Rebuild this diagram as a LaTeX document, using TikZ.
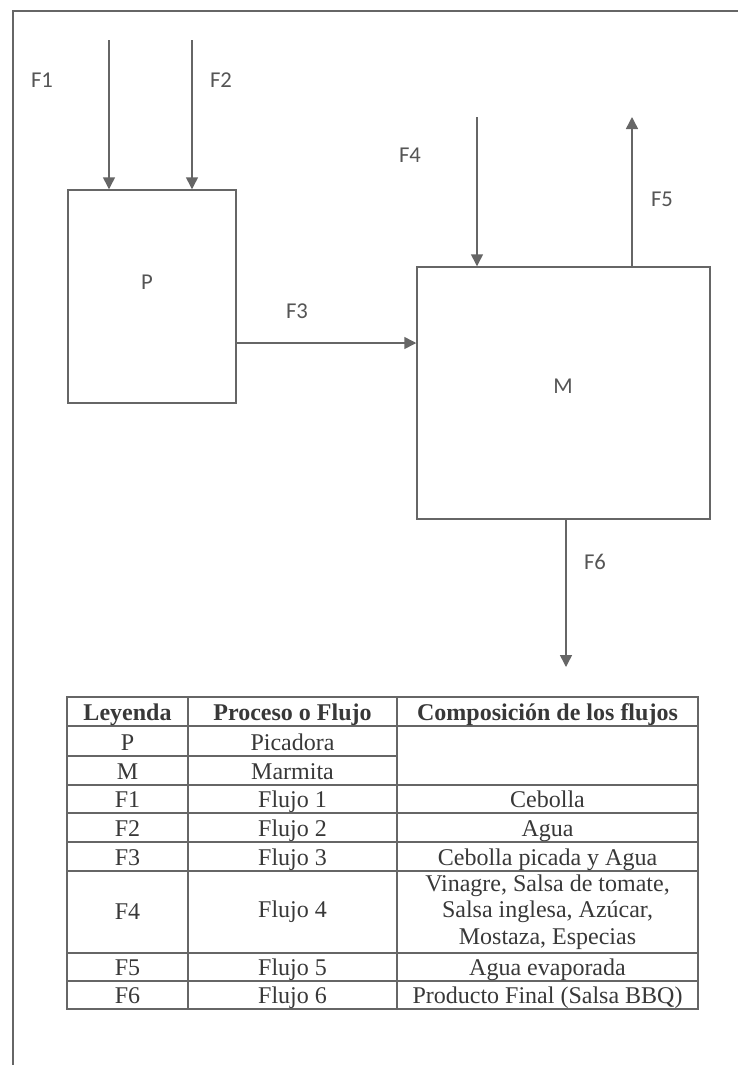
\documentclass[tikz,border=0pt]{standalone}
\usepackage{fontspec}
\setmainfont{Liberation Serif}
\newfontfamily\lblfont{Carlito}
\usetikzlibrary{arrows.meta}
\definecolor{linegray}{HTML}{666666}
\definecolor{lblgray}{HTML}{555555}
\definecolor{txtgray}{HTML}{383838}
\tikzset{
  unitbox/.style={draw=linegray, line width=1.1pt, inner sep=0pt},
  flow/.style={draw=linegray, line width=1.1pt, -{Triangle[width=9pt,length=9pt]}},
  flowlbl/.style={font=\lblfont\fontsize{17}{20}\selectfont, text=lblgray},
  tblline/.style={draw=linegray, line width=1.1pt},
  cell/.style={font=\fontsize{18}{20}\selectfont, text=txtgray, inner sep=0pt, align=center, anchor=base},
}
\begin{document}
\begin{tikzpicture}[x=0.75pt, y=-0.75pt]
\useasboundingbox (0,0) rectangle (738,1065);
% page frame
\draw[linegray, line width=1pt] (13,1065) -- (13,11) -- (738,11);

% process units
\node[unitbox, minimum width=126pt, minimum height=159.75pt] (P) at (152,296.5) {};
\node[unitbox, minimum width=219.75pt, minimum height=189pt] (M) at (563.5,393) {};
\node[flowlbl] (Plbl) at (147,282) {P};
\node[flowlbl] (Mlbl) at (563,386) {M};

% streams
\coordinate (f1in) at (109,40);
\coordinate (f2in) at (192,40);
\coordinate (f3out) at (P.east |- 0,343);
\coordinate (f4in) at (477,117);
\coordinate (f5out) at (632,117);
\coordinate (f6out) at (566,667);
\draw[flow] (f1in) -- (f1in |- P.north);
\draw[flow] (f2in) -- (f2in |- P.north);
\draw[flow] (f3out) -- (f3out -| M.west);
\draw[flow] (f4in) -- (f4in |- M.north);
\draw[flow] (f5out |- M.north) -- (f5out);
\draw[flow] (f6out |- M.south) -- (f6out);

\node[flowlbl] (F1lbl) at (42,80) {F1};
\node[flowlbl] (F2lbl) at (221,80) {F2};
\node[flowlbl] (F3lbl) at (297,311) {F3};
\node[flowlbl] (F4lbl) at (410,155) {F4};
\node[flowlbl] (F5lbl) at (662,199) {F5};
\node[flowlbl] (F6lbl) at (595,562) {F6};

% legend table
\draw[tblline] (67,697) rectangle (698,1009);
\draw[tblline] (188,697) -- (188,1009);
\draw[tblline] (397,697) -- (397,1009);
\foreach \y in {726,785,813,842,871,953,981}
  \draw[tblline] (67,\y) -- (698,\y);
\draw[tblline] (67,756) -- (397,756);

\node[cell, font=\fontsize{18}{20}\selectfont\bfseries] (hdA) at (127.5,720) {Leyenda};
\node[cell, font=\fontsize{18}{20}\selectfont\bfseries] (hdB) at (292.5,720) {Proceso o Flujo};
\node[cell, font=\fontsize{18}{20}\selectfont\bfseries] (hdC) at (547.5,720) {Composición de los flujos};

\foreach \key/\proc/\yb [count=\i] in {P/Picadora/756, M/Marmita/785, F1/Flujo 1/813,
    F2/Flujo 2/842, F3/Flujo 3/871, F5/Flujo 5/981, F6/Flujo 6/1009}{
  \node[cell] (key\i) at (127.5,\yb-6) {\key};
  \node[cell] (proc\i) at (292.5,\yb-6) {\proc};
}
\foreach \comp/\yb [count=\i] in {Cebolla/813, Agua/842, Cebolla picada y Agua/871,
    Agua evaporada/981, {Producto Final (Salsa BBQ)}/1009}
  \node[cell] (comp\i) at (547.5,\yb-6) {\comp};

\node[cell, anchor=center] (keyF4) at (127.5,912) {F4};
\node[cell, anchor=center] (procF4) at (292.5,912) {Flujo 4};
\node[cell, anchor=center] (compF4) at (547.5,912) {Vinagre, Salsa de tomate,\\ Salsa inglesa, Azúcar,\\ Mostaza, Especias};
\end{tikzpicture}
\end{document}
